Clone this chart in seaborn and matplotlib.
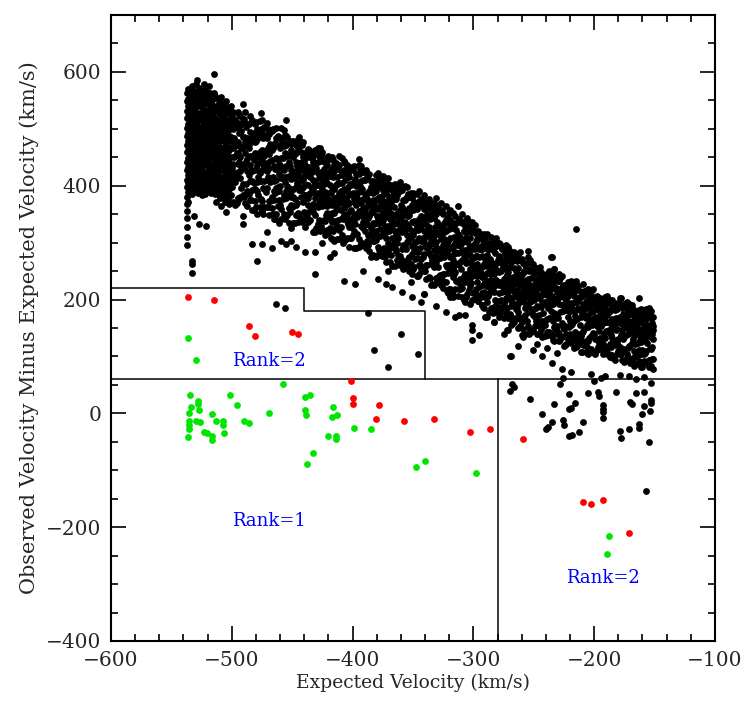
import matplotlib
matplotlib.use("Agg")
import matplotlib.pyplot as plt
from matplotlib.ticker import MultipleLocator
import seaborn as sns
import pandas as pd

# ---- data (km/s) ----
# Black cloud, written as (expected velocity, [residuals...]) columns
band_left = [
    (-537, [563, 548, 531, 519, 502, 488, 471, 459, 441, 427, 410, 398, 381, 368, 356, 344, 327, 310, 296]),
    (-536, [570, 553, 540, 522, 509, 493, 478, 462, 449, 433, 418, 404, 389, 372]),
    (-535, [558, 544, 527, 514, 497, 483, 468, 452, 439, 423, 408, 394]),
    (-533, [575, 561, 536, 519, 503, 487, 474, 457, 444, 428, 413, 399, 386, 268, 262, 247]),
    (-531, [566, 549, 531, 512, 495, 480, 463, 446, 431, 416, 402, 347]),
    (-529, [585, 556, 540, 523, 507, 490, 470, 452, 437, 421, 407, 392]),
    (-527, [571, 548, 528, 515, 498, 477, 461, 443, 426, 410, 396, 333]),
    (-525, [561, 539, 520, 503, 486, 468, 451, 434, 417, 401, 384]),
    (-523, [578, 553, 531, 512, 494, 476, 459, 440, 424, 409, 391]),
    (-521, [566, 545, 523, 505, 488, 471, 452, 437, 418, 402, 329]),
    (-519, [575, 558, 534, 515, 497, 481, 463, 447, 428, 412, 395]),
    (-517, [549, 529, 509, 492, 473, 456, 439, 421, 405, 388]),
    (-515, [597, 563, 540, 519, 502, 484, 465, 448, 430, 414, 398]),
    (-513, [554, 533, 512, 494, 477, 458, 443, 425, 407, 391, 371]),
    (-511, [545, 526, 505, 487, 469, 451, 434, 417, 400, 384]),
    (-509, [556, 537, 516, 498, 481, 462, 446, 428, 411, 396, 365]),
    (-507, [541, 522, 501, 484, 466, 449, 430, 414, 397, 381]),
    (-505, [548, 529, 510, 491, 475, 456, 439, 422, 405, 388, 353]),
    (-503, [536, 514, 497, 478, 461, 444, 425, 409, 392, 377]),
    (-501, [540, 521, 503, 486, 468, 451, 434, 416, 399, 383]),
    (-534, [392, 418, 445, 470, 493, 520, 547, 568]),
    (-532, [405, 431, 456, 482, 508, 529, 552]),
    (-530, [398, 424, 438, 465, 489, 515, 538, 562, 578]),
    (-528, [387, 413, 447, 474, 500, 526, 555]),
    (-526, [404, 429, 456, 481, 492, 518, 543, 566]),
    (-524, [394, 420, 437, 463, 488, 512, 536, 560]),
    (-522, [385, 410, 443, 469, 497, 522, 549, 570]),
    (-520, [399, 426, 452, 478, 503, 530, 556]),
    (-518, [390, 417, 435, 460, 486, 510, 538, 563]),
    (-516, [402, 427, 450, 473, 499, 525, 551]),
    (-514, [385, 409, 438, 462, 481, 507, 531, 558]),
    (-512, [396, 420, 446, 470, 493, 516, 540]),
    (-510, [378, 405, 431, 455, 478, 501, 527, 549]),
    (-508, [389, 413, 439, 459, 486, 511, 534]),
    (-506, [371, 398, 423, 445, 469, 492, 517, 541]),
    (-504, [385, 409, 433, 456, 480, 503, 528]),
    (-502, [368, 394, 417, 440, 463, 488, 512, 535]),
]

band_inner = [
    (-499, [372, 406, 422, 439, 466, 500, 530]),
    (-497, [367, 407, 422, 452, 469, 503, 515]),
    (-495, [378, 424, 438, 457, 476, 511, 529]),
    (-493, [381, 413, 426, 451, 470, 506, 522]),
    (-491, [383, 403, 436, 467, 485, 518, 544, 333, 347]),
    (-489, [369, 386, 440, 458, 476, 511, 529]),
    (-487, [364, 390, 426, 447, 471, 484, 507]),
    (-485, [375, 408, 437, 452, 475, 495, 523]),
    (-483, [358, 392, 408, 425, 452, 486, 516, 298]),
    (-481, [374, 394, 427, 458, 476, 509]),
    (-479, [351, 391, 406, 436, 453, 487, 499, 268]),
    (-477, [362, 408, 422, 441, 460, 495, 513]),
    (-475, [356, 373, 427, 445, 463, 498, 516, 298]),
    (-473, [363, 395, 408, 433, 452, 488, 504]),
    (-471, [363, 396, 425, 440, 463, 483, 511, 318]),
    (-469, [348, 374, 410, 431, 455, 468, 491]),
    (-467, [361, 381, 414, 445, 463, 496, 290]),
    (-465, [341, 375, 391, 408, 435, 469, 499]),
    (-463, [350, 396, 410, 429, 448, 483, 501]),
    (-461, [335, 375, 390, 420, 437, 471, 483]),
    (-459, [342, 359, 413, 431, 449, 484, 502, 303]),
    (-457, [350, 383, 412, 427, 450, 470, 498]),
    (-455, [346, 378, 391, 416, 435, 471, 487, 515, 298]),
    (-453, [334, 360, 396, 417, 441, 454, 477]),
    (-451, [326, 366, 381, 411, 428, 462, 474, 303]),
    (-449, [334, 365, 380, 395, 420, 451, 478]),
    (-447, [349, 367, 397, 425, 441, 471, 292]),
    (-445, [337, 352, 401, 418, 434, 466, 482]),
    (-443, [338, 380, 393, 410, 427, 459, 476]),
    (-441, [342, 372, 398, 412, 433, 451, 476]),
    (-439, [328, 352, 384, 403, 425, 437, 458, 283]),
    (-437, [337, 366, 378, 401, 418, 451, 465]),
    (-435, [339, 357, 387, 415, 431, 461]),
    (-433, [318, 354, 368, 395, 410, 441, 452]),
    (-431, [318, 349, 364, 379, 404, 435, 462, 284, 244]),
    (-429, [332, 362, 388, 402, 423, 441, 466]),
    (-427, [321, 336, 385, 402, 418, 450, 466]),
    (-425, [322, 364, 377, 394, 411, 443, 460, 299]),
    (-423, [314, 338, 370, 389, 411, 423, 444]),
    (-421, [323, 352, 364, 387, 404, 437, 451]),
    (-419, [325, 343, 373, 401, 417, 447, 274]),
    (-417, [306, 337, 352, 367, 392, 423, 450]),
    (-415, [302, 338, 352, 379, 394, 425, 436, 282]),
    (-413, [306, 330, 362, 381, 403, 415, 436]),
    (-411, [307, 322, 371, 388, 404, 436, 452]),
    (-409, [314, 344, 370, 384, 405, 423, 448]),
    (-407, [306, 348, 361, 378, 395, 427, 444, 232]),
    (-405, [309, 338, 350, 373, 390, 423, 437]),
    (-403, [292, 328, 342, 369, 384, 415, 426]),
    (-401, [309, 327, 357, 385, 401, 431]),
    (-500, [398, 431, 479, 522]),
    (-498, [412, 451, 484, 512]),
    (-496, [370, 416, 458, 504]),
    (-494, [376, 442, 492, 525]),
    (-492, [396, 429, 466, 496]),
    (-490, [381, 433, 485, 518]),
    (-488, [403, 442, 475, 503]),
    (-486, [385, 418, 466, 509]),
    (-484, [375, 427, 479, 512]),
    (-482, [358, 404, 446, 492]),
    (-480, [363, 429, 479, 512]),
    (-478, [383, 416, 453, 483]),
    (-476, [376, 409, 457, 500]),
    (-474, [350, 396, 438, 484]),
    (-472, [389, 428, 461, 489]),
    (-470, [363, 415, 467, 500]),
    (-468, [374, 407, 444, 474]),
    (-466, [350, 416, 466, 499]),
    (-464, [341, 387, 429, 475]),
    (-462, [364, 397, 445, 488]),
    (-460, [367, 400, 437, 467]),
    (-458, [376, 415, 448, 476]),
    (-456, [341, 407, 457, 490]),
    (-454, [348, 400, 452, 485]),
    (-452, [354, 387, 435, 478]),
    (-450, [363, 393, 426, 453]),
    (-448, [334, 376, 414, 456]),
    (-446, [370, 405, 435, 460]),
    (-444, [346, 393, 440, 470]),
    (-442, [336, 396, 441, 471]),
    (-440, [354, 384, 417, 444]),
    (-438, [348, 378, 422, 461]),
    (-436, [339, 386, 433, 463]),
    (-434, [359, 394, 424, 449]),
    (-432, [320, 362, 400, 442]),
    (-430, [326, 386, 431, 461]),
    (-428, [339, 369, 413, 452]),
    (-426, [330, 377, 424, 454]),
    (-424, [340, 370, 403, 430]),
    (-422, [349, 384, 414, 439]),
    (-420, [317, 377, 422, 452]),
    (-418, [308, 350, 388, 430]),
    (-416, [321, 368, 415, 445]),
    (-414, [327, 357, 401, 440]),
    (-412, [340, 375, 405, 430]),
    (-410, [328, 358, 391, 418]),
    (-408, [299, 341, 379, 421]),
    (-406, [305, 365, 410, 440]),
    (-404, [333, 368, 398, 423]),
    (-402, [309, 356, 403, 433]),
]

band_mid = [
    (-399, [290, 321, 336, 351, 376, 407, 434]),
    (-397, [291, 315, 347, 366, 388, 400, 421]),
    (-395, [292, 307, 356, 373, 389, 421, 437, 447]),
    (-393, [300, 330, 356, 370, 391, 409, 434]),
    (-391, [296, 325, 337, 360, 377, 410, 424, 250]),
    (-389, [290, 332, 345, 362, 379, 411, 428]),
    (-387, [296, 314, 344, 372, 388, 418]),
    (-385, [275, 311, 325, 352, 367, 398, 409]),
    (-383, [278, 302, 334, 353, 375, 387, 408]),
    (-381, [274, 305, 320, 335, 360, 391, 418]),
    (-379, [278, 293, 342, 359, 375, 407, 423, 236]),
    (-377, [283, 312, 324, 347, 364, 397, 411]),
    (-375, [283, 313, 339, 353, 374, 392, 417]),
    (-373, [275, 317, 330, 347, 364, 396, 413]),
    (-371, [281, 299, 329, 357, 373, 403, 414, 251]),
    (-369, [266, 290, 322, 341, 363, 375, 396]),
    (-367, [259, 295, 309, 336, 351, 382, 393, 222]),
    (-365, [259, 290, 305, 320, 345, 376, 403]),
    (-363, [270, 299, 311, 334, 351, 384, 398]),
    (-361, [261, 276, 325, 342, 358, 390, 406]),
    (-359, [270, 288, 318, 346, 362, 392, 214]),
    (-357, [266, 296, 322, 336, 357, 375, 400]),
    (-355, [259, 301, 314, 331, 348, 380, 397]),
    (-353, [251, 275, 307, 326, 348, 360, 381]),
    (-351, [244, 280, 294, 321, 336, 367, 378, 205]),
    (-349, [257, 286, 298, 321, 338, 371, 385]),
    (-347, [242, 273, 288, 303, 328, 359, 386]),
    (-345, [245, 260, 309, 326, 342, 374, 390]),
    (-343, [254, 272, 302, 330, 346, 376, 196]),
    (-341, [250, 280, 306, 320, 341, 359, 384, 210]),
    (-339, [236, 260, 292, 311, 333, 345, 366]),
    (-337, [239, 281, 294, 311, 328, 360, 377]),
    (-335, [226, 262, 276, 303, 318, 349, 360]),
    (-333, [226, 257, 272, 287, 312, 343, 370]),
    (-331, [237, 266, 278, 301, 318, 351, 365, 378, 188]),
    (-329, [239, 257, 287, 315, 331, 361]),
    (-327, [225, 240, 289, 306, 322, 354, 370]),
    (-325, [220, 244, 276, 295, 317, 329, 350]),
    (-323, [230, 260, 286, 300, 321, 339, 364, 178]),
    (-321, [211, 247, 261, 288, 303, 334, 345]),
    (-319, [219, 261, 274, 291, 308, 340, 357]),
    (-317, [208, 239, 254, 269, 294, 325, 352]),
    (-315, [219, 248, 260, 283, 300, 333, 347, 170]),
    (-313, [207, 231, 263, 282, 304, 316, 337, 365]),
    (-311, [218, 236, 266, 294, 310, 340]),
    (-309, [205, 220, 269, 286, 302, 334, 350]),
    (-307, [195, 231, 245, 272, 287, 318, 329, 172]),
    (-305, [210, 240, 266, 280, 301, 319, 344]),
    (-303, [192, 223, 238, 253, 278, 309, 336]),
    (-301, [199, 241, 254, 271, 288, 320, 337, 129, 147, 156]),
    (-400, [314, 344, 388, 427]),
    (-398, [290, 332, 370, 412]),
    (-396, [315, 345, 378, 405]),
    (-394, [294, 354, 399, 429]),
    (-392, [300, 347, 394, 424]),
    (-390, [320, 355, 385, 410]),
    (-388, [303, 333, 377, 416]),
    (-386, [286, 346, 391, 421]),
    (-384, [277, 319, 357, 399]),
    (-382, [303, 333, 366, 393]),
    (-380, [311, 346, 376, 401]),
    (-378, [287, 334, 381, 411]),
    (-376, [277, 337, 382, 412]),
    (-374, [290, 320, 364, 403]),
    (-372, [266, 308, 346, 388]),
    (-370, [291, 321, 354, 381]),
    (-368, [278, 325, 372, 402]),
    (-366, [298, 333, 363, 388]),
    (-364, [286, 316, 349, 376]),
    (-362, [279, 309, 353, 392]),
    (-360, [262, 322, 367, 397]),
    (-358, [253, 295, 333, 375]),
    (-356, [289, 324, 354, 379]),
    (-354, [272, 302, 346, 385]),
    (-352, [263, 310, 357, 387]),
    (-350, [253, 313, 358, 388]),
    (-348, [271, 301, 334, 361]),
    (-346, [242, 284, 322, 364]),
    (-344, [261, 291, 335, 374]),
    (-342, [274, 309, 339, 364]),
    (-340, [250, 297, 344, 374]),
    (-338, [260, 290, 323, 350]),
    (-336, [237, 297, 342, 372]),
    (-334, [228, 270, 308, 350]),
    (-332, [263, 298, 328, 353]),
    (-330, [231, 291, 336, 366]),
    (-328, [243, 273, 317, 356]),
    (-326, [234, 281, 328, 358]),
    (-324, [244, 274, 307, 334]),
    (-322, [215, 257, 295, 337]),
    (-320, [219, 279, 324, 354]),
    (-318, [210, 252, 290, 332]),
    (-316, [245, 280, 310, 335]),
    (-314, [233, 263, 296, 323]),
    (-312, [218, 265, 312, 342]),
    (-310, [223, 253, 297, 336]),
    (-308, [199, 241, 279, 321]),
    (-306, [204, 264, 309, 339]),
    (-304, [217, 247, 291, 330]),
    (-302, [229, 264, 294, 319]),
]

band_right = [
    (-299, [201, 214, 258, 274, 288, 317, 331]),
    (-297, [204, 230, 241, 262, 277, 307, 319]),
    (-295, [206, 222, 249, 274, 288, 315, 138]),
    (-293, [190, 212, 240, 258, 277, 288, 307]),
    (-291, [185, 213, 227, 240, 263, 291, 315]),
    (-289, [196, 223, 246, 259, 278, 294, 316, 169]),
    (-287, [178, 211, 223, 248, 261, 289, 299]),
    (-285, [185, 223, 235, 250, 266, 294, 310]),
    (-283, [187, 213, 224, 245, 260, 290, 302, 160]),
    (-281, [178, 191, 235, 251, 265, 294, 308]),
    (-279, [170, 198, 212, 225, 248, 276, 300]),
    (-277, [183, 199, 226, 251, 265, 292]),
    (-275, [168, 190, 218, 236, 255, 266, 285, 140]),
    (-273, [176, 203, 226, 239, 258, 274, 296, 170]),
    (-271, [168, 206, 218, 233, 249, 277, 293, 147]),
    (-269, [155, 188, 200, 225, 238, 266, 276, 101]),
    (-267, [167, 193, 204, 225, 240, 270, 282, 164]),
    (-265, [168, 184, 211, 236, 250, 277]),
    (-263, [150, 178, 192, 205, 228, 256, 280, 118]),
    (-261, [153, 166, 210, 226, 240, 269, 283]),
    (-259, [148, 170, 198, 216, 235, 246, 265, 134]),
    (-257, [140, 173, 185, 210, 223, 251, 261]),
    (-255, [154, 181, 204, 217, 236, 252, 274, 286]),
    (-253, [145, 183, 195, 210, 226, 254, 270]),
    (-251, [147, 173, 184, 205, 220, 250, 262, 112]),
    (-249, [154, 169, 215, 228, 252]),
    (-247, [140, 164, 188, 208, 233, 255, 122]),
    (-245, [142, 154, 207, 220, 246, 258]),
    (-243, [134, 163, 196, 208, 232, 241, 100]),
    (-241, [136, 155, 196, 214, 223, 240]),
    (-239, [143, 166, 194, 208, 234, 245, 114]),
    (-237, [143, 167, 199, 215, 230, 250]),
    (-235, [136, 169, 193, 207, 233, 246, 274, 88]),
    (-233, [128, 152, 176, 196, 221, 243, 253]),
    (-231, [139, 154, 200, 213, 237, 106]),
    (-229, [128, 140, 193, 206, 232, 244]),
    (-227, [135, 159, 191, 207, 222, 242, 78]),
    (-225, [119, 148, 181, 193, 217, 226]),
    (-223, [121, 140, 181, 199, 208, 225]),
    (-221, [128, 151, 179, 193, 219, 230]),
    (-219, [123, 156, 180, 194, 220, 233, 72]),
    (-217, [114, 138, 162, 182, 207, 229]),
    (-215, [117, 129, 182, 195, 221, 233, 324]),
    (-213, [124, 139, 185, 198, 222]),
    (-211, [107, 136, 169, 181, 205, 214]),
    (-209, [120, 144, 176, 192, 207, 227]),
    (-207, [108, 127, 168, 186, 195, 212]),
    (-205, [104, 128, 152, 172, 197, 219]),
    (-203, [113, 136, 164, 178, 204, 215, 70]),
    (-201, [108, 141, 165, 179, 205, 218]),
    (-300, [211, 253, 295, 322]),
    (-298, [219, 246, 276, 301]),
    (-296, [198, 252, 293, 320]),
    (-294, [204, 246, 288, 315]),
    (-292, [187, 225, 259, 297]),
    (-290, [205, 232, 272, 307]),
    (-288, [206, 233, 263, 288]),
    (-286, [213, 245, 272, 295]),
    (-284, [177, 215, 249, 287]),
    (-282, [199, 226, 256, 281]),
    (-280, [186, 228, 270, 297]),
    (-278, [176, 230, 271, 298]),
    (-276, [187, 214, 254, 289]),
    (-274, [198, 230, 257, 280]),
    (-272, [186, 213, 243, 268]),
    (-270, [174, 216, 258, 285]),
    (-268, [157, 195, 229, 267]),
    (-266, [161, 215, 256, 283]),
    (-264, [185, 217, 244, 267]),
    (-262, [170, 197, 237, 272]),
    (-260, [161, 203, 245, 272]),
    (-258, [169, 196, 226, 251]),
    (-256, [162, 189, 229, 264]),
    (-254, [140, 178, 212, 250]),
    (-252, [143, 197, 238, 265]),
    (-250, [172, 200, 224, 244]),
    (-248, [162, 186, 212, 234]),
    (-246, [139, 173, 203, 237]),
    (-244, [149, 187, 225, 249]),
    (-242, [153, 177, 212, 243]),
    (-240, [164, 192, 216, 236]),
    (-238, [138, 186, 222, 246]),
    (-236, [142, 180, 218, 242]),
    (-234, [129, 163, 193, 227]),
    (-232, [149, 173, 199, 221]),
    (-230, [143, 167, 202, 233]),
    (-228, [130, 178, 214, 238]),
    (-226, [152, 180, 204, 224]),
    (-224, [120, 154, 184, 218]),
    (-222, [131, 169, 207, 231]),
    (-220, [139, 163, 189, 211]),
    (-218, [133, 157, 192, 223]),
    (-216, [143, 171, 195, 215]),
    (-214, [118, 166, 202, 226]),
    (-212, [132, 156, 182, 204]),
    (-210, [108, 142, 172, 206]),
    (-208, [125, 149, 184, 215]),
    (-206, [117, 155, 193, 217]),
    (-204, [133, 161, 185, 205]),
    (-202, [108, 156, 192, 216]),
]

band_edge = [
    (-199, [104, 130, 158, 169, 191, 198]),
    (-197, [117, 129, 170, 181, 202]),
    (-195, [113, 133, 158, 170, 193, 203]),
    (-193, [105, 122, 158, 173, 181, 196]),
    (-191, [111, 132, 160, 175, 188, 205, 66]),
    (-189, [104, 115, 161, 172, 194, 206]),
    (-187, [99, 121, 142, 159, 181, 200]),
    (-185, [103, 133, 154, 166, 188, 200]),
    (-183, [94, 120, 148, 159, 181, 188]),
    (-181, [104, 124, 149, 161, 184, 194]),
    (-179, [105, 117, 158, 169, 190, 203, 68]),
    (-177, [94, 111, 147, 162, 170, 185]),
    (-175, [91, 113, 134, 151, 173, 192]),
    (-173, [94, 105, 151, 162, 184, 196]),
    (-171, [98, 119, 147, 162, 175, 192, 65]),
    (-169, [93, 123, 144, 156, 178, 190]),
    (-167, [84, 110, 138, 149, 171, 178]),
    (-165, [86, 103, 139, 154, 162, 177]),
    (-163, [92, 112, 137, 149, 172, 182, 203]),
    (-161, [82, 104, 125, 142, 164, 183]),
    (-159, [92, 104, 145, 156, 177, 64]),
    (-157, [89, 110, 138, 153, 166, 183]),
    (-155, [82, 93, 139, 150, 172, 184, 185]),
    (-153, [83, 113, 134, 146, 168, 180]),
    (-151, [78, 95, 131, 146, 154, 169]),
    (-200, [108, 137, 164, 193]),
    (-198, [111, 153, 185, 206]),
    (-196, [123, 144, 168, 187]),
    (-194, [129, 154, 175, 193]),
    (-192, [118, 139, 170, 197]),
    (-190, [112, 145, 178, 199]),
    (-188, [104, 146, 178, 199]),
    (-186, [117, 138, 162, 181]),
    (-184, [98, 127, 154, 183]),
    (-182, [121, 146, 167, 185]),
    (-180, [110, 131, 162, 189]),
    (-178, [104, 137, 170, 191]),
    (-176, [110, 131, 155, 174]),
    (-174, [95, 137, 169, 190]),
    (-172, [115, 140, 161, 179]),
    (-170, [89, 118, 145, 174]),
    (-168, [97, 130, 163, 184]),
    (-166, [101, 122, 153, 180]),
    (-164, [103, 124, 148, 167]),
    (-162, [87, 129, 161, 182]),
    (-160, [82, 111, 138, 167]),
    (-158, [106, 131, 152, 170]),
    (-156, [90, 123, 156, 177]),
    (-154, [93, 114, 145, 172]),
    (-152, [95, 116, 140, 159]),
]

# Isolated black objects outside the main band
black_sparse_x = [-463, -456, -387, -360, -382, -346, -371, -312, -341, -290,
                  -283, -273, -272, -268, -270, -398, -372, -352, -319, -317,
                  -296, -293, -260, -253, -476, -444, -236, -233, -178,
                  -270, -268, -266, -253, -243, -233.5, -235, -238.5, -240, -226, -225,
                  -221, -218.6, -212.6, -209.5, -221, -219, -216, -221, -228, -225.6,
                  -205, -200, -197, -196, -194, -182, -165, -159, -165, -153,
                  -193, -193, -193, -193, -179, -178, -171, -170, -169, -163, -163,
                  -160, -158.5, -155, -154, -153, -153, -157]
black_sparse_y = [193, 186, 177, 139, 112, 105, 82, 172, 210, 169,
                  160, 170, 147, 164, 101, 228, 227, 230, 204, 204,
                  197, 191, 137, 146, 528, 486, 274, 253, 203,
                  39, 52, 47, 25, -2, 16, -15, -24, -27, -12, -21,
                  -39, -38, -33, -16, 8, 9, 18, 34, 51, 62,
                  36, 56, 38, 30, 63, 37, 36, 37, 60, 53,
                  15, 8, 2, -8, -31, -44, -27, 20, 17, -19, -25,
                  -2, 13, -50, 3.5, 23, 18, -137]

red_x = [-536.5, -514.5, -486, -480.5, -450.4, -445.5, -401, -400, -399.7, -378,
         -380.6, -357.7, -332.4, -303, -286, -259, -209.5, -202.4, -192.7, -171]
red_y = [204, 200, 153, 136, 143, 139, 57, 27.5, 17, 15,
         -10, -13, -10, -33, -28, -45, -156, -160, -153, -210]

green_x = [-536, -530, -458, -534.4, -533.6, -535.2, -528.3, -528, -527.2, -535.7,
           -535.7, -535.7, -536, -530, -526.4, -516.4, -513.3, -522.8, -520.4, -516,
           -516.6, -507.6, -507.6, -506.5, -501.5, -496, -490, -485.5, -469, -439.4,
           -435.5, -439.7, -438.6, -416, -417.3, -412.6, -399, -385, -420.4, -413.7,
           -413.5, -433, -438, -347.8, -339.8, -297.8, -187.7, -189.7]
green_y = [132, 93.5, 51, 31.6, 11, 0.6, 21.6, 17, 5.8, -13.5,
           -20, -28, -41.6, -13.5, -15, -1.8, -13, -33, -34, -39,
           -47.4, -13.5, -21, -34.5, 31.6, 14.6, -13.5, -16.4, 0, 29,
           31.6, 6, -3, 10.5, -6.4, -3.5, -25.7, -28, -39, -40,
           -44.5, -69.6, -89.5, -94.7, -84, -105, -216, -248]

# Selection boundaries
cut_level = 60
step_x = [-600, -440, -440, -340, -340]
step_y = [220, 220, 180, 180, cut_level]
split_x = -280

rank_labels = [("Rank=2", -500, 92), ("Rank=1", -500, -190), ("Rank=2", -223, -290)]


def flatten(columns):
    xs, ys = [], []
    for x, col in columns:
        xs.extend([x] * len(col))
        ys.extend(col)
    return xs, ys


bx, by = [], []
for block in (band_left, band_inner, band_mid, band_right, band_edge):
    xs, ys = flatten(block)
    bx += xs
    by += ys
bx += black_sparse_x
by += black_sparse_y

black_df = pd.DataFrame({"expected": bx, "residual": by})
red_df = pd.DataFrame({"expected": red_x, "residual": red_y})
green_df = pd.DataFrame({"expected": green_x, "residual": green_y})

sns.set_style("ticks")
plt.rcParams["font.family"] = ["DejaVu Serif"]

fig, ax = plt.subplots(figsize=(7.51, 7.04), dpi=100)
fig.subplots_adjust(left=0.1478, right=0.952, top=0.9787, bottom=0.0895)

dot = 24
sns.scatterplot(data=black_df, x="expected", y="residual", ax=ax, color="black",
                s=dot, linewidth=0, legend=False)
sns.scatterplot(data=red_df, x="expected", y="residual", ax=ax, color="#ff0000",
                s=dot, linewidth=0, legend=False, zorder=3)
sns.scatterplot(data=green_df, x="expected", y="residual", ax=ax, color="#00e600",
                s=dot, linewidth=0, legend=False, zorder=3)

ax.axhline(cut_level, color="black", lw=1.1)
ax.plot(step_x, step_y, color="black", lw=1.1)
ax.plot([split_x, split_x], [-400, cut_level], color="black", lw=1.1)

for txt, tx, ty in rank_labels:
    ax.text(tx, ty, txt, color="#0000ff", fontsize=13, ha="left", va="center")

ax.set_xlim(-600, -100)
ax.set_ylim(-400, 700)
ax.xaxis.set_major_locator(MultipleLocator(100))
ax.xaxis.set_minor_locator(MultipleLocator(20))
ax.yaxis.set_major_locator(MultipleLocator(200))
ax.yaxis.set_minor_locator(MultipleLocator(50))
ax.tick_params(which="both", direction="in", top=True, right=True, width=1.2, color="black")
ax.tick_params(which="major", length=11, labelsize=14.5, pad=7)
ax.tick_params(which="minor", length=5)
for sp in ax.spines.values():
    sp.set_linewidth(1.5)
    sp.set_color("black")

ax.set_xlabel("Expected Velocity (km/s)", fontsize=13.5, labelpad=3)
ax.set_ylabel("Observed Velocity Minus Expected Velocity (km/s)", fontsize=15, labelpad=5)

fig.savefig("out.png", dpi=100)
